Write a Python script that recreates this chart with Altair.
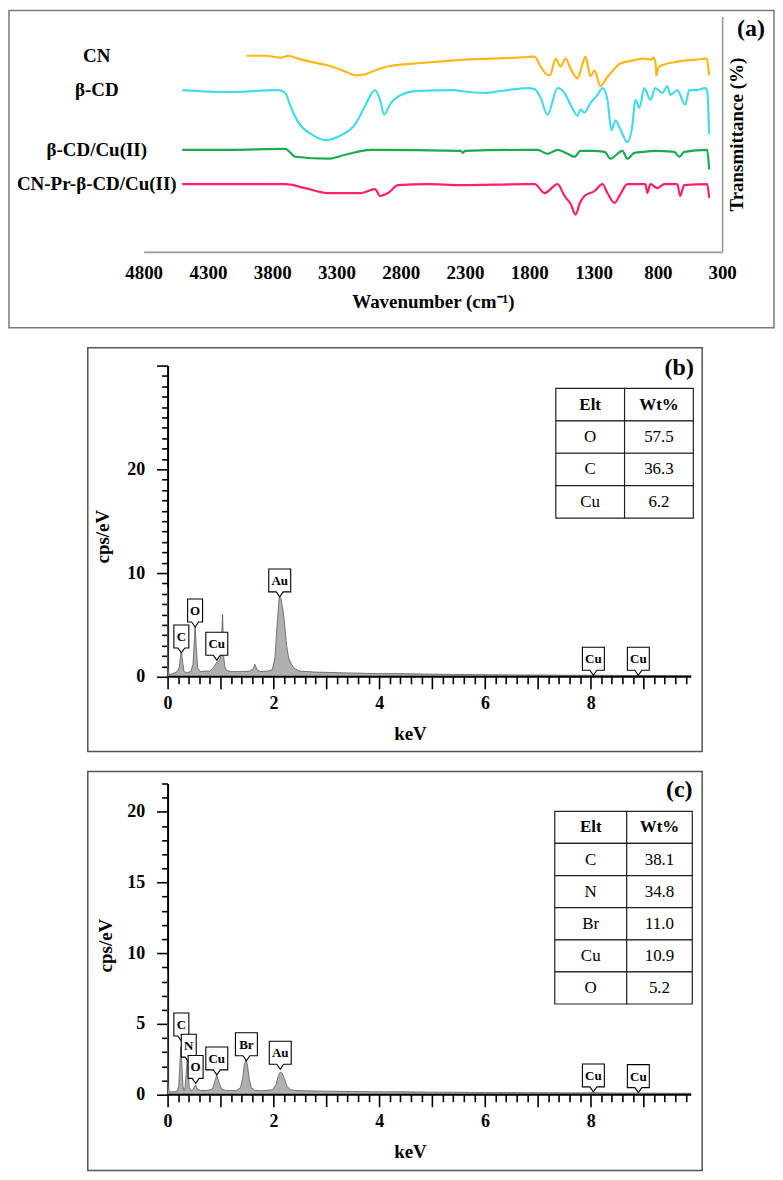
import altair as alt
import pandas as pd

FONT = "Liberation Serif"

# ---------------- Panel (a): FTIR spectra (arbitrary transmittance units) ----------------
cn_wn = [4000, 3850, 3729, 3675, 3597, 3470, 3365, 3233, 3155, 3078, 3000, 2899, 2700, 2500, 2300,
         2100, 1900, 1760, 1712, 1665, 1640, 1595, 1557, 1518, 1479, 1425, 1390, 1363, 1324, 1293,
         1246, 1200, 1169, 1091, 1000, 905, 858, 835, 818, 812, 800, 789, 649, 500, 420, 401]
cn_t = [200, 200, 198, 200, 197, 193, 190, 184, 180, 181, 185, 189, 192, 194, 196,
        197, 198, 199, 189, 181, 180, 197, 189, 197, 187, 177, 190, 199, 179, 185,
        169, 177, 182, 192, 195, 197, 196, 198, 193, 180, 186, 189, 194, 196, 197, 180]

bcd_wn = [4500, 4140, 3753, 3698, 3659, 3597, 3496, 3388, 3264, 3155, 3077, 3000, 2961, 2930, 2876,
          2798, 2690, 2379, 2333, 2146, 2022, 1813, 1758, 1712, 1658, 1580, 1526, 1479, 1425, 1402,
          1371, 1324, 1270, 1231, 1192, 1161, 1130, 1099, 1037, 998, 975, 944, 905, 858, 820,
          765, 727, 703, 649, 587, 556, 494, 432, 416, 401]
bcd_t = [165, 163, 165, 162, 149, 132, 120, 114, 119, 130, 149, 165, 155, 140, 152,
         160, 164, 165, 164, 162, 164, 167, 166, 157, 140, 167, 162, 150, 139, 145,
         142, 152, 160, 167, 155, 124, 134, 127, 112, 129, 155, 147, 167, 155, 167,
         162, 169, 160, 165, 150, 165, 165, 167, 164, 120]

bcdcu_wn = [4500, 4140, 3698, 3621, 3365, 3233, 3031, 2333, 2317, 2300, 1813, 1735, 1658, 1580, 1502,
            1448, 1402, 1309, 1215, 1169, 1076, 1037, 983, 905, 828, 672, 633, 595, 416, 401]
bcdcu_t = [104, 104, 105, 97, 95, 99, 104, 103, 101, 103, 104, 104, 100, 104, 100,
           97, 103, 103, 102, 95, 103, 95, 101, 102, 103, 102, 97, 102, 104, 84]

cnpr_wn = [4500, 3753, 3698, 3543, 3365, 3109, 3000, 2961, 2899, 2821, 2589, 2333, 1813, 1758, 1681,
           1580, 1526, 1479, 1440, 1409, 1371, 1293, 1231, 1192, 1138, 1091, 1037, 897, 882, 858,
           804, 750, 649, 626, 595, 416, 401]
cnpr_t = [69, 69, 69, 65, 60, 60, 64, 57, 60, 68, 69, 68, 69, 69, 60,
          69, 57, 49, 38, 49, 57, 62, 69, 60, 50, 59, 69, 69, 60, 69,
          65, 69, 69, 57, 68, 69, 55]

series_names = ["CN", "β-CD", "β-CD/Cu(II)", "CN-Pr-β-CD/Cu(II)"]
series_colors = ["#ffb619", "#44dce6", "#1bab4f", "#ff1f6c"]
series_label_level = [200, 165, 104, 69]
wn_ticks = [4800, 4300, 3800, 3300, 2800, 2300, 1800, 1300, 800, 300]

# ---------------- Panel (b): EDS of β-CD/Cu(II) ----------------
b_kev = [0.0, 0.01, 0.03, 0.1, 0.18, 0.22, 0.24, 0.26, 0.28, 0.31, 0.36, 0.44, 0.48, 0.50, 0.52,
         0.54, 0.57, 0.62, 0.70, 0.80, 0.87, 0.93, 0.97, 1.00, 1.02, 1.04, 1.06, 1.08, 1.12, 1.20,
         1.40, 1.55, 1.62, 1.65, 1.69, 1.75, 1.90, 1.98, 2.03, 2.07, 2.11, 2.14, 2.18, 2.21, 2.25,
         2.29, 2.34, 2.40, 2.50, 2.80, 3.20, 3.60, 4.00, 4.50, 5.00, 5.50, 6.00, 6.50, 7.00, 7.50,
         8.00, 8.05, 8.10, 8.50, 9.00, 9.50, 9.90]
b_cps = [8.6, 0.8, 0.2, 0.3, 0.5, 0.9, 1.8, 2.5, 1.6, 0.5, 0.4, 0.5, 1.2, 3.0, 4.9,
         3.0, 0.8, 0.5, 0.55, 0.55, 0.9, 1.4, 1.5, 1.8, 3.5, 6.0, 2.0, 1.0, 0.6, 0.5,
         0.5, 0.55, 0.8, 1.2, 0.7, 0.5, 0.55, 0.7, 1.8, 5.0, 7.7, 7.6, 6.5, 5.2, 3.0,
         1.8, 1.2, 0.8, 0.55, 0.45, 0.4, 0.35, 0.3, 0.3, 0.25, 0.22, 0.2, 0.18, 0.17, 0.15,
         0.15, 0.2, 0.15, 0.13, 0.12, 0.11, 0.1]
b_peak_lab = ["C", "O", "Cu", "Au", "Cu", "Cu"]
b_peak_kev = [0.26, 0.52, 0.93, 2.12, 8.05, 8.9]
b_peak_cps = [2.3, 4.8, 1.6, 7.7, 0.15, 0.15]
b_elt = ["O", "C", "Cu"]
b_wt = [57.5, 36.3, 6.2]

# ---------------- Panel (c): EDS of CN-Pr-β-CD/Cu(II) ----------------
c_kev = [0.0, 0.01, 0.03, 0.1, 0.18, 0.21, 0.23, 0.25, 0.27, 0.29, 0.31, 0.33, 0.35, 0.37, 0.39,
         0.41, 0.44, 0.48, 0.51, 0.53, 0.56, 0.62, 0.75, 0.85, 0.89, 0.93, 0.97, 1.02, 1.10, 1.30,
         1.38, 1.42, 1.45, 1.48, 1.51, 1.54, 1.58, 1.65, 1.80, 1.98, 2.05, 2.09, 2.13, 2.17, 2.21,
         2.26, 2.32, 2.40, 2.60, 3.00, 3.50, 4.00, 4.50, 5.00, 5.50, 6.00, 6.50, 7.00, 7.50, 8.00,
         8.05, 8.10, 8.50, 9.00, 9.50, 9.90]
c_cps = [8.8, 0.8, 0.2, 0.2, 0.25, 0.6, 2.0, 3.4, 2.2, 0.6, 0.3, 0.5, 1.4, 2.5, 1.6,
         0.5, 0.3, 0.35, 0.6, 0.7, 0.4, 0.3, 0.3, 0.4, 0.9, 1.4, 0.9, 0.4, 0.3, 0.3,
         0.5, 1.2, 2.1, 2.5, 2.1, 1.2, 0.5, 0.3, 0.28, 0.35, 0.7, 1.3, 1.6, 1.5, 1.1,
         0.6, 0.35, 0.3, 0.27, 0.25, 0.22, 0.2, 0.2, 0.18, 0.17, 0.15, 0.15, 0.14, 0.13, 0.13,
         0.17, 0.13, 0.12, 0.11, 0.1, 0.1]
c_peak_lab = ["C", "N", "O", "Cu", "Br", "Au", "Cu", "Cu"]
c_peak_kev = [0.26, 0.40, 0.53, 0.93, 1.49, 2.13, 8.05, 8.9]
c_peak_cps = [3.8, 2.3, 0.8, 1.4, 2.4, 1.8, 0.2, 0.15]
c_elt = ["C", "N", "Br", "Cu", "O"]
c_wt = [38.1, 34.8, 11.0, 10.9, 5.2]

one = pd.DataFrame({"k": [0]})


def txt(**kw):
    base = dict(font=FONT, color="#000")
    base.update(kw)
    return base


# ---------------- build panel (a) ----------------
ir = pd.concat([
    pd.DataFrame({"wn": w, "t": t, "s": n})
    for w, t, n in [(cn_wn, cn_t, series_names[0]), (bcd_wn, bcd_t, series_names[1]),
                    (bcdcu_wn, bcdcu_t, series_names[2]), (cnpr_wn, cnpr_t, series_names[3])]
])

xa = alt.X("wn:Q", scale=alt.Scale(domain=[4800, 300], nice=False, zero=False),
           axis=alt.Axis(values=wn_ticks, tickCount=100, tickMinStep=1, ticks=False, grid=False,
                         labelExpr="format(datum.value, 'd')",
                         domainColor="#9a9a9a", domainWidth=1.6,
                         labelFont=FONT, labelFontSize=19, labelFontWeight="bold", labelColor="#000",
                         labelPadding=12, labelFlush=False, labelOverlap=False, labelBound=False,
                         title="Wavenumber (cm⁻¹)", titleFont=FONT, titleFontSize=19,
                         titleFontWeight="bold", titleColor="#000", titleX=290, titleY=50,
                         titleAlign="center", titleBaseline="middle"))
ya = alt.Y("t:Q", scale=alt.Scale(domain=[0, 240], nice=False, zero=False),
           axis=alt.Axis(orient="right", ticks=False, labels=False, grid=False,
                         domainColor="#9a9a9a", domainWidth=1.6,
                         title="Transmittance (%)", titleFont=FONT, titleFontSize=19,
                         titleFontWeight="bold", titleColor="#000", titleAngle=270,
                         titleX=14, titleY=118, titleAlign="center", titleBaseline="middle"))

frame_a = alt.Chart(one).mark_rect(filled=False, stroke="#7a7a7a", strokeWidth=1.5).encode(
    x=alt.value(-135), x2=alt.value(632), y=alt.value(-6), y2=alt.value(312))
lines_a = alt.Chart(ir).mark_line(strokeWidth=2.2, interpolate="monotone").encode(
    x=xa, y=ya,
    color=alt.Color("s:N", scale=alt.Scale(domain=series_names, range=series_colors), legend=None))
labels_a = alt.Chart(pd.DataFrame({"name": series_names, "t": series_label_level})).mark_text(
    **txt(fontSize=19, fontWeight="bold", align="center", baseline="middle")).encode(
    x=alt.value(-47), y=alt.Y("t:Q"), text="name:N")
letter_a = alt.Chart(one).mark_text(**txt(fontSize=24, fontWeight="bold", align="center",
                                          baseline="middle")).encode(
    x=alt.value(609), y=alt.value(13), text=alt.value("(a)"))

panel_a = alt.layer(frame_a, lines_a, labels_a, letter_a).properties(width=580, height=236)

# ---------------- build EDS panels ----------------
# all panels share the same plot origin; EDS x axis starts 24 px right of it
NARROW = "M-7.5,-28 L7.5,-28 L7.5,-5 L3.5,-5 L0,0 L-3.5,-5 L-7.5,-5 Z"
WIDE = "M-11,-28 L11,-28 L11,-5 L3.5,-5 L0,0 L-3.5,-5 L-11,-5 Z"
KEV_MIN = -24 / 53.0
KEV_MAX = 9.9


def eds_panel(kev, cps, plab, pkev, pcps, elts, wts, ymax, ymajor, tbl, letter, letter_y,
              ytitle_y, ytitle_x, frame_y):
    spec = pd.DataFrame({"kev": kev, "cps": cps})
    x_vals = [round(i * 0.2, 1) for i in range(50)]
    y_vals = list(range(0, ymax + 1))
    xenc = alt.X("kev:Q", scale=alt.Scale(domain=[KEV_MIN, KEV_MAX], nice=False, zero=False),
                 axis=alt.Axis(values=x_vals, tickCount=500, tickMinStep=0.1, domain=False,
                               labelExpr="abs(datum.value % 2) < 0.001 ? format(datum.value, 'd') : ''",
                               tickSize={"condition": {"test": "abs(datum.value - round(datum.value)) < 0.001",
                                                       "value": 12},
                                         "value": 7},
                               tickColor="#000", tickWidth=1.6,
                               grid=False, labelFont=FONT, labelFontSize=18, labelFontWeight="bold",
                               labelColor="#000", labelPadding=6, labelFlush=False,
                               labelOverlap=False, labelBound=False,
                               title="keV", titleFont=FONT, titleFontSize=19, titleFontWeight="bold",
                               titleColor="#000", titleX=267, titleY=57, titleAlign="center",
                               titleBaseline="middle"))
    yenc = alt.Y("cps:Q", scale=alt.Scale(domain=[0, ymax], nice=False, zero=True),
                 axis=alt.Axis(values=y_vals, tickCount=500, tickMinStep=0.5, offset=-24,
                               labelExpr=f"datum.value % {ymajor} === 0 && datum.value < {ymax} ? format(datum.value, 'd') : ''",
                               tickSize={"condition": {"test": f"datum.value % {ymajor} === 0", "value": 11},
                                         "value": 6},
                               tickColor="#000", tickWidth=1.6, domainColor="#000", domainWidth=2,
                               grid=False, labelFont=FONT, labelFontSize=18, labelFontWeight="bold",
                               labelColor="#000", labelPadding=12, labelOverlap=False,
                               labelBound=False, labelFlush=False,
                               title="cps/eV", titleFont=FONT, titleFontSize=19,
                               titleFontWeight="bold", titleColor="#000", titleAngle=270,
                               titleX=ytitle_x, titleY=ytitle_y, titleAlign="center",
                               titleBaseline="middle"))

    frame = alt.Chart(one).mark_rect(filled=False, stroke="#555", strokeWidth=1.5).encode(
        x=alt.value(-56), x2=alt.value(560), y=alt.value(frame_y[0]), y2=alt.value(frame_y[1]))
    area = alt.Chart(spec).mark_area(color="#b0b0b0", opacity=1,
                                     line={"color": "#5a5a5a", "strokeWidth": 0.8}).encode(
        x=xenc, y=yenc)
    xline = alt.Chart(one).mark_rule(color="#000", strokeWidth=2).encode(
        x=alt.datum(0), x2=alt.datum(KEV_MAX), y=alt.datum(0))

    peaks = pd.DataFrame({"lab": plab, "kev": pkev, "cps": pcps})
    pbase = alt.Chart(peaks)
    box_n = pbase.transform_filter("length(datum.lab) == 1").mark_point(
        shape=NARROW, size=4, filled=True, fill="white", stroke="#000", strokeWidth=1.1,
        opacity=1).encode(x="kev:Q", y="cps:Q")
    box_w = pbase.transform_filter("length(datum.lab) > 1").mark_point(
        shape=WIDE, size=4, filled=True, fill="white", stroke="#000", strokeWidth=1.1,
        opacity=1).encode(x="kev:Q", y="cps:Q")
    box_t = pbase.mark_text(**txt(fontSize=13, fontWeight="bold", align="center",
                                  baseline="middle", dy=-16)).encode(
        x="kev:Q", y="cps:Q", text="lab:N")

    # table of composition
    L, S, R, TOP, H = tbl
    rows = [("Elt", "Wt%", 1)] + [(e, f"{w:.1f}", 0) for e, w in zip(elts, wts)]
    cells = []
    for r, (a, b, hdr) in enumerate(rows):
        cells.append({"row": r, "col": 0, "txt": a, "hdr": hdr})
        cells.append({"row": r, "col": 1, "txt": b, "hdr": hdr})
    tb = alt.Chart(pd.DataFrame(cells)).transform_calculate(
        x0=f"datum.col == 0 ? {L} : {S}",
        x1=f"datum.col == 0 ? {S} : {R}",
        y0=f"{TOP} - datum.row * {H}",
        y1=f"{TOP} - (datum.row + 1) * {H}",
    ).transform_calculate(
        xc="(datum.x0 + datum.x1) / 2",
        yc="(datum.y0 + datum.y1) / 2",
    )
    t_rect = tb.mark_rect(fill="white", stroke="#222", strokeWidth=1.2).encode(
        x="x0:Q", x2="x1:Q", y="y0:Q", y2="y1:Q")
    t_head = tb.transform_filter("datum.hdr == 1").mark_text(
        **txt(fontSize=17, fontWeight="bold", align="center", baseline="middle")).encode(
        x="xc:Q", y="yc:Q", text="txt:N")
    t_body = tb.transform_filter("datum.hdr == 0").mark_text(
        **txt(fontSize=17, align="center", baseline="middle")).encode(
        x="xc:Q", y="yc:Q", text="txt:N")

    let = alt.Chart(one).mark_text(**txt(fontSize=24, fontWeight="bold", align="center",
                                         baseline="middle")).encode(
        x=alt.value(537), y=alt.value(letter_y), text=alt.value(letter))

    return alt.layer(frame, area, xline, box_n, box_w, box_t, t_rect, t_head, t_body, let
                     ).properties(width=549, height=312)


panel_b = eds_panel(b_kev, b_cps, b_peak_lab, b_peak_kev, b_peak_cps, b_elt, b_wt,
                    30, 10, (7.34, 8.64, 9.94, 27.8, 3.125), "(b)", 2, 171, -65, (-18, 387))
panel_c = eds_panel(c_kev, c_cps, c_peak_lab, c_peak_kev, c_peak_cps, c_elt, c_wt,
                    22, 5, (7.32, 8.68, 9.92, 20.03, 2.27), "(c)", 7, 162, -62, (-12, 388))

chart = alt.vconcat(panel_a, panel_b, panel_c, spacing=18).properties(
    padding={"left": 0, "top": 0, "right": 0, "bottom": 0},
    background="white",
).configure_view(stroke=None)

chart.save("out.html", embed_options={"renderer": "svg", "actions": False})
